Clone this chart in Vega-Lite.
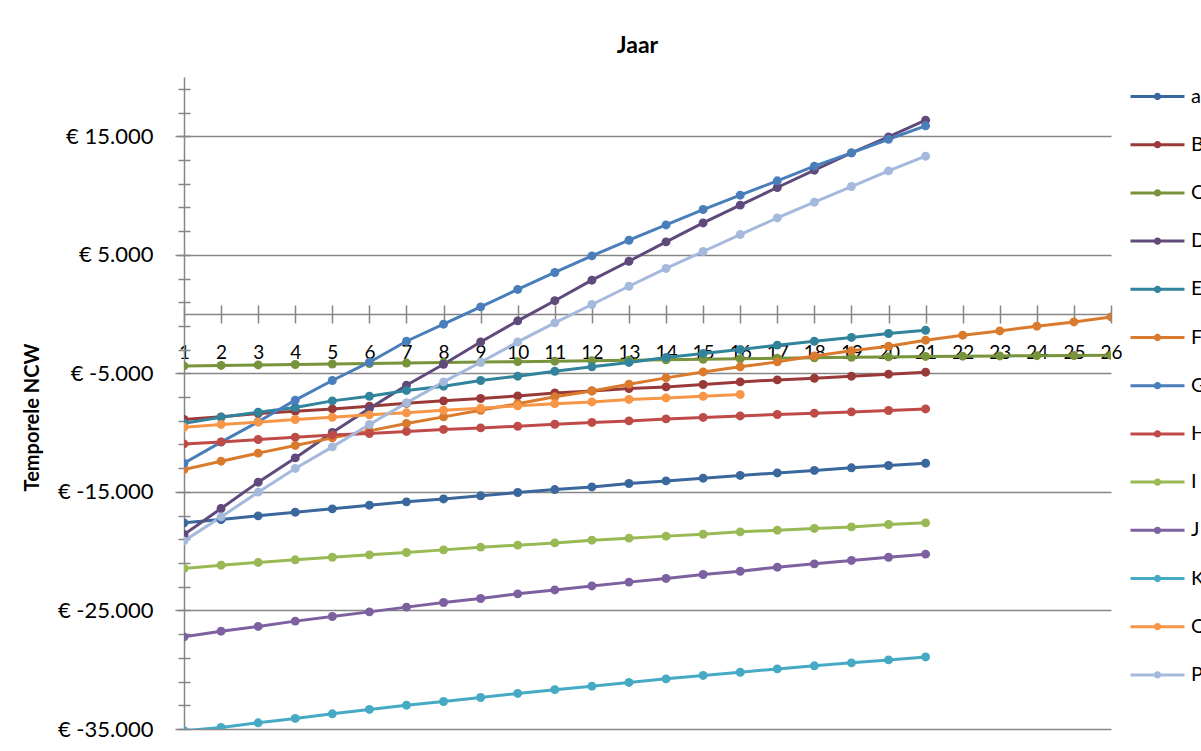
{
  "$schema": "https://vega.github.io/schema/vega-lite/v6.json",
  "width": 927,
  "height": 652,
  "autosize": {"type": "none"},
  "padding": {"left": 184, "top": 77, "right": 90, "bottom": 22},
  "background": "white",
  "config": {
    "view": {"stroke": null},
    "font": "Lato",
    "axis": {"labelFont": "Lato", "titleFont": "Lato", "labelColor": "#000000", "titleColor": "#000000"}
  },
  "title": {
    "text": "Jaar",
    "font": "Lato",
    "fontSize": 23,
    "fontWeight": "bold",
    "color": "#000000",
    "anchor": "middle",
    "frame": "group",
    "baseline": "alphabetic",
    "offset": 5,
    "dx": -10,
    "dy": 13
  },
  "data": {
    "values": [
      {"serie": "a", "jaar": 1, "ncw": -17610}, {"serie": "a", "jaar": 2, "ncw": -17330}, {"serie": "a", "jaar": 3, "ncw": -17020},
      {"serie": "a", "jaar": 4, "ncw": -16710}, {"serie": "a", "jaar": 5, "ncw": -16430}, {"serie": "a", "jaar": 6, "ncw": -16120},
      {"serie": "a", "jaar": 7, "ncw": -15840}, {"serie": "a", "jaar": 8, "ncw": -15590}, {"serie": "a", "jaar": 9, "ncw": -15330},
      {"serie": "a", "jaar": 10, "ncw": -15050}, {"serie": "a", "jaar": 11, "ncw": -14800}, {"serie": "a", "jaar": 12, "ncw": -14580},
      {"serie": "a", "jaar": 13, "ncw": -14290}, {"serie": "a", "jaar": 14, "ncw": -14070}, {"serie": "a", "jaar": 15, "ncw": -13840},
      {"serie": "a", "jaar": 16, "ncw": -13610}, {"serie": "a", "jaar": 17, "ncw": -13400}, {"serie": "a", "jaar": 18, "ncw": -13190},
      {"serie": "a", "jaar": 19, "ncw": -12970}, {"serie": "a", "jaar": 20, "ncw": -12770}, {"serie": "a", "jaar": 21, "ncw": -12580},

      {"serie": "B", "jaar": 1, "ncw": -8890}, {"serie": "B", "jaar": 2, "ncw": -8670}, {"serie": "B", "jaar": 3, "ncw": -8390},
      {"serie": "B", "jaar": 4, "ncw": -8190}, {"serie": "B", "jaar": 5, "ncw": -8000}, {"serie": "B", "jaar": 6, "ncw": -7770},
      {"serie": "B", "jaar": 7, "ncw": -7520}, {"serie": "B", "jaar": 8, "ncw": -7320}, {"serie": "B", "jaar": 9, "ncw": -7120},
      {"serie": "B", "jaar": 10, "ncw": -6900}, {"serie": "B", "jaar": 11, "ncw": -6650}, {"serie": "B", "jaar": 12, "ncw": -6480},
      {"serie": "B", "jaar": 13, "ncw": -6280}, {"serie": "B", "jaar": 14, "ncw": -6140}, {"serie": "B", "jaar": 15, "ncw": -5940},
      {"serie": "B", "jaar": 16, "ncw": -5720}, {"serie": "B", "jaar": 17, "ncw": -5550}, {"serie": "B", "jaar": 18, "ncw": -5410},
      {"serie": "B", "jaar": 19, "ncw": -5240}, {"serie": "B", "jaar": 20, "ncw": -5070}, {"serie": "B", "jaar": 21, "ncw": -4900},

      {"serie": "C", "jaar": 1, "ncw": -4370}, {"serie": "C", "jaar": 2, "ncw": -4330}, {"serie": "C", "jaar": 3, "ncw": -4290},
      {"serie": "C", "jaar": 4, "ncw": -4250}, {"serie": "C", "jaar": 5, "ncw": -4210}, {"serie": "C", "jaar": 6, "ncw": -4170},
      {"serie": "C", "jaar": 7, "ncw": -4130}, {"serie": "C", "jaar": 8, "ncw": -4090}, {"serie": "C", "jaar": 9, "ncw": -4050},
      {"serie": "C", "jaar": 10, "ncw": -4010}, {"serie": "C", "jaar": 11, "ncw": -3970}, {"serie": "C", "jaar": 12, "ncw": -3930},
      {"serie": "C", "jaar": 13, "ncw": -3890}, {"serie": "C", "jaar": 14, "ncw": -3850}, {"serie": "C", "jaar": 15, "ncw": -3810},
      {"serie": "C", "jaar": 16, "ncw": -3770}, {"serie": "C", "jaar": 17, "ncw": -3730}, {"serie": "C", "jaar": 18, "ncw": -3690},
      {"serie": "C", "jaar": 19, "ncw": -3650}, {"serie": "C", "jaar": 20, "ncw": -3610}, {"serie": "C", "jaar": 21, "ncw": -3570},
      {"serie": "C", "jaar": 22, "ncw": -3550}, {"serie": "C", "jaar": 23, "ncw": -3530}, {"serie": "C", "jaar": 24, "ncw": -3510},
      {"serie": "C", "jaar": 25, "ncw": -3490}, {"serie": "C", "jaar": 26, "ncw": -3470},

      {"serie": "D", "jaar": 1, "ncw": -18590}, {"serie": "D", "jaar": 2, "ncw": -16400}, {"serie": "D", "jaar": 3, "ncw": -14180},
      {"serie": "D", "jaar": 4, "ncw": -12130}, {"serie": "D", "jaar": 5, "ncw": -9990}, {"serie": "D", "jaar": 6, "ncw": -7960},
      {"serie": "D", "jaar": 7, "ncw": -6000}, {"serie": "D", "jaar": 8, "ncw": -4230}, {"serie": "D", "jaar": 9, "ncw": -2350},
      {"serie": "D", "jaar": 10, "ncw": -570}, {"serie": "D", "jaar": 11, "ncw": 1130}, {"serie": "D", "jaar": 12, "ncw": 2860},
      {"serie": "D", "jaar": 13, "ncw": 4460}, {"serie": "D", "jaar": 14, "ncw": 6090}, {"serie": "D", "jaar": 15, "ncw": 7690},
      {"serie": "D", "jaar": 16, "ncw": 9190}, {"serie": "D", "jaar": 17, "ncw": 10680}, {"serie": "D", "jaar": 18, "ncw": 12140},
      {"serie": "D", "jaar": 19, "ncw": 13600}, {"serie": "D", "jaar": 20, "ncw": 14950}, {"serie": "D", "jaar": 21, "ncw": 16360},

      {"serie": "E", "jaar": 1, "ncw": -9200}, {"serie": "E", "jaar": 2, "ncw": -8700}, {"serie": "E", "jaar": 3, "ncw": -8280},
      {"serie": "E", "jaar": 4, "ncw": -7880}, {"serie": "E", "jaar": 5, "ncw": -7320}, {"serie": "E", "jaar": 6, "ncw": -6930},
      {"serie": "E", "jaar": 7, "ncw": -6440}, {"serie": "E", "jaar": 8, "ncw": -6080}, {"serie": "E", "jaar": 9, "ncw": -5600},
      {"serie": "E", "jaar": 10, "ncw": -5240}, {"serie": "E", "jaar": 11, "ncw": -4820}, {"serie": "E", "jaar": 12, "ncw": -4450},
      {"serie": "E", "jaar": 13, "ncw": -4080}, {"serie": "E", "jaar": 14, "ncw": -3660}, {"serie": "E", "jaar": 15, "ncw": -3320},
      {"serie": "E", "jaar": 16, "ncw": -2990}, {"serie": "E", "jaar": 17, "ncw": -2620}, {"serie": "E", "jaar": 18, "ncw": -2290},
      {"serie": "E", "jaar": 19, "ncw": -1970}, {"serie": "E", "jaar": 20, "ncw": -1640}, {"serie": "E", "jaar": 21, "ncw": -1360},

      {"serie": "F", "jaar": 1, "ncw": -13110}, {"serie": "F", "jaar": 2, "ncw": -12410}, {"serie": "F", "jaar": 3, "ncw": -11730},
      {"serie": "F", "jaar": 4, "ncw": -11080}, {"serie": "F", "jaar": 5, "ncw": -10440}, {"serie": "F", "jaar": 6, "ncw": -9850},
      {"serie": "F", "jaar": 7, "ncw": -9230}, {"serie": "F", "jaar": 8, "ncw": -8670}, {"serie": "F", "jaar": 9, "ncw": -8110},
      {"serie": "F", "jaar": 10, "ncw": -7560}, {"serie": "F", "jaar": 11, "ncw": -6980}, {"serie": "F", "jaar": 12, "ncw": -6480},
      {"serie": "F", "jaar": 13, "ncw": -5910}, {"serie": "F", "jaar": 14, "ncw": -5380}, {"serie": "F", "jaar": 15, "ncw": -4880},
      {"serie": "F", "jaar": 16, "ncw": -4450}, {"serie": "F", "jaar": 17, "ncw": -4030}, {"serie": "F", "jaar": 18, "ncw": -3530},
      {"serie": "F", "jaar": 19, "ncw": -3100}, {"serie": "F", "jaar": 20, "ncw": -2710}, {"serie": "F", "jaar": 21, "ncw": -2200},
      {"serie": "F", "jaar": 22, "ncw": -1780}, {"serie": "F", "jaar": 23, "ncw": -1420}, {"serie": "F", "jaar": 24, "ncw": -1020},
      {"serie": "F", "jaar": 25, "ncw": -660}, {"serie": "F", "jaar": 26, "ncw": -240},

      {"serie": "G", "jaar": 1, "ncw": -12580}, {"serie": "G", "jaar": 2, "ncw": -10800}, {"serie": "G", "jaar": 3, "ncw": -9080},
      {"serie": "G", "jaar": 4, "ncw": -7260}, {"serie": "G", "jaar": 5, "ncw": -5600}, {"serie": "G", "jaar": 6, "ncw": -4060},
      {"serie": "G", "jaar": 7, "ncw": -2290}, {"serie": "G", "jaar": 8, "ncw": -850}, {"serie": "G", "jaar": 9, "ncw": 610},
      {"serie": "G", "jaar": 10, "ncw": 2080}, {"serie": "G", "jaar": 11, "ncw": 3510}, {"serie": "G", "jaar": 12, "ncw": 4910},
      {"serie": "G", "jaar": 13, "ncw": 6230}, {"serie": "G", "jaar": 14, "ncw": 7520}, {"serie": "G", "jaar": 15, "ncw": 8820},
      {"serie": "G", "jaar": 16, "ncw": 10030}, {"serie": "G", "jaar": 17, "ncw": 11240}, {"serie": "G", "jaar": 18, "ncw": 12480},
      {"serie": "G", "jaar": 19, "ncw": 13600}, {"serie": "G", "jaar": 20, "ncw": 14750}, {"serie": "G", "jaar": 21, "ncw": 15880},

      {"serie": "H", "jaar": 1, "ncw": -10950}, {"serie": "H", "jaar": 2, "ncw": -10780}, {"serie": "H", "jaar": 3, "ncw": -10580},
      {"serie": "H", "jaar": 4, "ncw": -10380}, {"serie": "H", "jaar": 5, "ncw": -10190}, {"serie": "H", "jaar": 6, "ncw": -10070},
      {"serie": "H", "jaar": 7, "ncw": -9900}, {"serie": "H", "jaar": 8, "ncw": -9730}, {"serie": "H", "jaar": 9, "ncw": -9600},
      {"serie": "H", "jaar": 10, "ncw": -9460}, {"serie": "H", "jaar": 11, "ncw": -9290}, {"serie": "H", "jaar": 12, "ncw": -9140},
      {"serie": "H", "jaar": 13, "ncw": -9010}, {"serie": "H", "jaar": 14, "ncw": -8840}, {"serie": "H", "jaar": 15, "ncw": -8720},
      {"serie": "H", "jaar": 16, "ncw": -8590}, {"serie": "H", "jaar": 17, "ncw": -8470}, {"serie": "H", "jaar": 18, "ncw": -8360},
      {"serie": "H", "jaar": 19, "ncw": -8250}, {"serie": "H", "jaar": 20, "ncw": -8130}, {"serie": "H", "jaar": 21, "ncw": -8000},

      {"serie": "I", "jaar": 1, "ncw": -21460}, {"serie": "I", "jaar": 2, "ncw": -21180}, {"serie": "I", "jaar": 3, "ncw": -20950},
      {"serie": "I", "jaar": 4, "ncw": -20730}, {"serie": "I", "jaar": 5, "ncw": -20510}, {"serie": "I", "jaar": 6, "ncw": -20310},
      {"serie": "I", "jaar": 7, "ncw": -20110}, {"serie": "I", "jaar": 8, "ncw": -19890}, {"serie": "I", "jaar": 9, "ncw": -19660},
      {"serie": "I", "jaar": 10, "ncw": -19490}, {"serie": "I", "jaar": 11, "ncw": -19300}, {"serie": "I", "jaar": 12, "ncw": -19070},
      {"serie": "I", "jaar": 13, "ncw": -18900}, {"serie": "I", "jaar": 14, "ncw": -18730}, {"serie": "I", "jaar": 15, "ncw": -18570},
      {"serie": "I", "jaar": 16, "ncw": -18370}, {"serie": "I", "jaar": 17, "ncw": -18230}, {"serie": "I", "jaar": 18, "ncw": -18080},
      {"serie": "I", "jaar": 19, "ncw": -17950}, {"serie": "I", "jaar": 20, "ncw": -17750}, {"serie": "I", "jaar": 21, "ncw": -17610},

      {"serie": "J", "jaar": 1, "ncw": -27230}, {"serie": "J", "jaar": 2, "ncw": -26750}, {"serie": "J", "jaar": 3, "ncw": -26350},
      {"serie": "J", "jaar": 4, "ncw": -25900}, {"serie": "J", "jaar": 5, "ncw": -25510}, {"serie": "J", "jaar": 6, "ncw": -25120},
      {"serie": "J", "jaar": 7, "ncw": -24720}, {"serie": "J", "jaar": 8, "ncw": -24330}, {"serie": "J", "jaar": 9, "ncw": -23990},
      {"serie": "J", "jaar": 10, "ncw": -23600}, {"serie": "J", "jaar": 11, "ncw": -23270}, {"serie": "J", "jaar": 12, "ncw": -22930},
      {"serie": "J", "jaar": 13, "ncw": -22610}, {"serie": "J", "jaar": 14, "ncw": -22300}, {"serie": "J", "jaar": 15, "ncw": -21970},
      {"serie": "J", "jaar": 16, "ncw": -21690}, {"serie": "J", "jaar": 17, "ncw": -21350}, {"serie": "J", "jaar": 18, "ncw": -21070},
      {"serie": "J", "jaar": 19, "ncw": -20780}, {"serie": "J", "jaar": 20, "ncw": -20510}, {"serie": "J", "jaar": 21, "ncw": -20250},

      {"serie": "K", "jaar": 1, "ncw": -35150}, {"serie": "K", "jaar": 2, "ncw": -34870}, {"serie": "K", "jaar": 3, "ncw": -34480},
      {"serie": "K", "jaar": 4, "ncw": -34110}, {"serie": "K", "jaar": 5, "ncw": -33720}, {"serie": "K", "jaar": 6, "ncw": -33350},
      {"serie": "K", "jaar": 7, "ncw": -32990}, {"serie": "K", "jaar": 8, "ncw": -32680}, {"serie": "K", "jaar": 9, "ncw": -32340},
      {"serie": "K", "jaar": 10, "ncw": -32000}, {"serie": "K", "jaar": 11, "ncw": -31680}, {"serie": "K", "jaar": 12, "ncw": -31390},
      {"serie": "K", "jaar": 13, "ncw": -31070}, {"serie": "K", "jaar": 14, "ncw": -30770}, {"serie": "K", "jaar": 15, "ncw": -30480},
      {"serie": "K", "jaar": 16, "ncw": -30210}, {"serie": "K", "jaar": 17, "ncw": -29930}, {"serie": "K", "jaar": 18, "ncw": -29670},
      {"serie": "K", "jaar": 19, "ncw": -29420}, {"serie": "K", "jaar": 20, "ncw": -29170}, {"serie": "K", "jaar": 21, "ncw": -28920},

      {"serie": "O", "jaar": 1, "ncw": -9540}, {"serie": "O", "jaar": 2, "ncw": -9310}, {"serie": "O", "jaar": 3, "ncw": -9120},
      {"serie": "O", "jaar": 4, "ncw": -8890}, {"serie": "O", "jaar": 5, "ncw": -8700}, {"serie": "O", "jaar": 6, "ncw": -8500},
      {"serie": "O", "jaar": 7, "ncw": -8330}, {"serie": "O", "jaar": 8, "ncw": -8110}, {"serie": "O", "jaar": 9, "ncw": -7940},
      {"serie": "O", "jaar": 10, "ncw": -7740}, {"serie": "O", "jaar": 11, "ncw": -7560}, {"serie": "O", "jaar": 12, "ncw": -7410},
      {"serie": "O", "jaar": 13, "ncw": -7200}, {"serie": "O", "jaar": 14, "ncw": -7070}, {"serie": "O", "jaar": 15, "ncw": -6930},
      {"serie": "O", "jaar": 16, "ncw": -6780},

      {"serie": "P", "jaar": 1, "ncw": -19130}, {"serie": "P", "jaar": 2, "ncw": -17110}, {"serie": "P", "jaar": 3, "ncw": -15020},
      {"serie": "P", "jaar": 4, "ncw": -13020}, {"serie": "P", "jaar": 5, "ncw": -11200}, {"serie": "P", "jaar": 6, "ncw": -9310},
      {"serie": "P", "jaar": 7, "ncw": -7490}, {"serie": "P", "jaar": 8, "ncw": -5720}, {"serie": "P", "jaar": 9, "ncw": -4060},
      {"serie": "P", "jaar": 10, "ncw": -2350}, {"serie": "P", "jaar": 11, "ncw": -740}, {"serie": "P", "jaar": 12, "ncw": 810},
      {"serie": "P", "jaar": 13, "ncw": 2350}, {"serie": "P", "jaar": 14, "ncw": 3850}, {"serie": "P", "jaar": 15, "ncw": 5280},
      {"serie": "P", "jaar": 16, "ncw": 6710}, {"serie": "P", "jaar": 17, "ncw": 8110}, {"serie": "P", "jaar": 18, "ncw": 9440},
      {"serie": "P", "jaar": 19, "ncw": 10760}, {"serie": "P", "jaar": 20, "ncw": 12080}, {"serie": "P", "jaar": 21, "ncw": 13320}
    ]
  },
  "layer": [
    {
      "mark": {"type": "line", "strokeWidth": 3, "clip": true, "point": {"filled": true, "size": 80}},
      "encoding": {
        "x": {
          "field": "jaar",
          "type": "quantitative",
          "scale": {"domain": [1, 26], "nice": false, "zero": false},
          "axis": {
            "orient": "bottom",
            "offset": -415,
            "values": [1, 2, 3, 4, 5, 6, 7, 8, 9, 10, 11, 12, 13, 14, 15, 16, 17, 18, 19, 20, 21, 22, 23, 24, 25, 26],
            "format": "d",
            "grid": false,
            "domainColor": "#868686",
            "domainWidth": 1.5,
            "tickColor": "#868686",
            "tickWidth": 1.5,
            "tickSize": 9,
            "labelFontSize": 19,
            "labelBaseline": "alphabetic",
            "labelPadding": 35,
            "labelFlush": false,
            "labelOverlap": false,
            "title": null
          }
        },
        "y": {
          "field": "ncw",
          "type": "quantitative",
          "scale": {"domain": [-35000, 20000], "nice": false, "zero": false},
          "axis": {
            "orient": "left",
            "values": [-35000, -25000, -15000, -5000, 5000, 15000],
            "grid": true,
            "gridColor": "#868686",
            "gridWidth": 1.5,
            "domainColor": "#868686",
            "domainWidth": 1.5,
            "tickColor": "#868686",
            "tickWidth": 1.5,
            "tickSize": 9,
            "labelFontSize": 22,
            "labelPadding": 22,
            "labelExpr": "'€ ' + (datum.value < 0 ? '-' : '') + replace(format(abs(datum.value), ','), ',', '.')",
            "title": "Temporele NCW",
            "titleFontSize": 20,
            "titleFontWeight": "bold",
            "titleAngle": -90,
            "titleX": -146,
            "titleY": 340,
            "titleAlign": "center",
            "titleBaseline": "alphabetic"
          }
        },
        "color": {
          "field": "serie",
          "type": "nominal",
          "scale": {
            "domain": ["a", "B", "C", "D", "E", "F", "G", "H", "I", "J", "K", "O", "P"],
            "range": ["#3A679C", "#9A3A38", "#77933C", "#604A7B", "#31849B", "#DA7A2C", "#4A7EBB", "#BE4B48", "#98B954", "#7D60A0", "#46AAC5", "#F79646", "#A5B9DD"]
          },
          "legend": {
            "title": null,
            "orient": "none",
            "legendX": 945,
            "legendY": -9,
            "padding": 0,
            "symbolType": "M-1,0H1M0.08,0A0.08,0.08,0,1,1,-0.08,0A0.08,0.08,0,1,1,0.08,0",
            "symbolSize": 2916,
            "symbolStrokeWidth": 3,
            "symbolOpacity": 1,
            "labelFont": "Lato",
            "labelFontSize": 20,
            "labelColor": "#000000",
            "labelOffset": 5,
            "rowPadding": 9.2
          }
        }
      }
    },
    {
      "mark": {"type": "point", "opacity": 0, "size": 0},
      "encoding": {
        "x": {
          "datum": 1,
          "type": "quantitative",
          "scale": {"domain": [1, 26], "nice": false, "zero": false},
          "axis": {
            "orient": "top",
            "offset": -237,
            "values": [1, 2, 3, 4, 5, 6, 7, 8, 9, 10, 11, 12, 13, 14, 15, 16, 17, 18, 19, 20, 21, 22, 23, 24, 25, 26],
            "domain": false,
            "grid": false,
            "labels": false,
            "tickColor": "#868686",
            "tickWidth": 1.5,
            "tickSize": 9,
            "title": null
          }
        },
        "y": {
          "datum": 0,
          "type": "quantitative",
          "scale": {"domain": [-35000, 20000], "nice": false, "zero": false},
          "axis": {
            "orient": "left",
            "values": [-35000, -33000, -31000, -29000, -27000, -25000, -23000, -21000, -19000, -17000, -15000, -13000, -11000, -9000, -7000, -5000, -3000, -1000, 1000, 3000, 5000, 7000, 9000, 11000, 13000, 15000, 17000, 19000],
            "domain": false,
            "grid": false,
            "labels": false,
            "tickColor": "#868686",
            "tickWidth": 1.5,
            "tickSize": 6,
            "title": null
          }
        }
      }
    },
    {
      "mark": {"type": "point", "opacity": 0, "size": 0},
      "encoding": {
        "y": {
          "datum": 0,
          "type": "quantitative",
          "scale": {"domain": [-35000, 20000], "nice": false, "zero": false},
          "axis": {
            "orient": "right",
            "offset": -927,
            "values": [-35000, -33000, -31000, -29000, -27000, -25000, -23000, -21000, -19000, -17000, -15000, -13000, -11000, -9000, -7000, -5000, -3000, -1000, 1000, 3000, 5000, 7000, 9000, 11000, 13000, 15000, 17000, 19000],
            "domain": false,
            "grid": false,
            "labels": false,
            "tickColor": "#868686",
            "tickWidth": 1.5,
            "tickSize": 6,
            "title": null
          }
        }
      }
    }
  ],
  "resolve": {"axis": {"x": "independent", "y": "independent"}}
}
